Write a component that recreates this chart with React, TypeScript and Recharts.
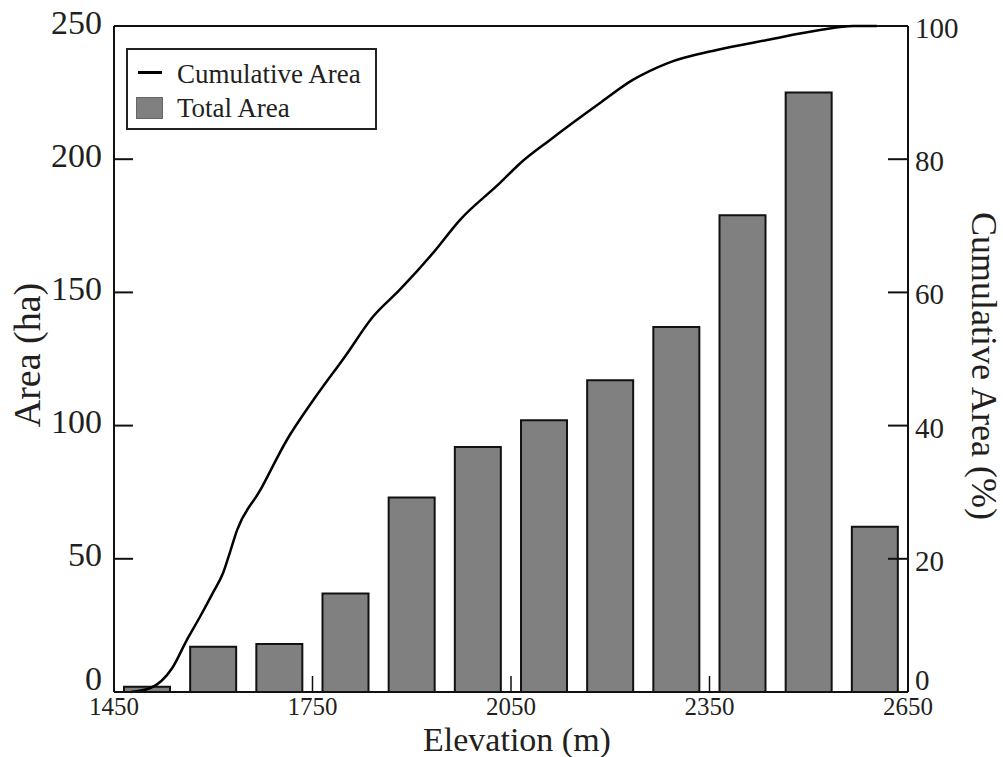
import { ComposedChart, Bar, Line, XAxis, YAxis, Legend, ReferenceLine } from "recharts";

// histogram of area per 100 m elevation band
const barElevation = [1500, 1600, 1700, 1800, 1900, 2000, 2100, 2200, 2300, 2400, 2500, 2600];
const totalArea = [2, 17, 18, 37, 73, 92, 102, 117, 137, 179, 225, 62];

// cumulative area curve (percent)
const cumElevation = [
  1475, 1505, 1538, 1560, 1580, 1600, 1615, 1625, 1636, 1671, 1711, 1751, 1800, 1841,
  1882, 1932, 1973, 2033, 2064, 2109, 2184, 2234, 2286, 2361, 2437, 2517, 2567, 2603,
];
const cumulativePct = [
  0, 0.6, 3.6, 7.8, 11.3, 15, 17.9, 20.9, 24.3, 30.3, 37.8, 43.8, 50.5, 56.3,
  60.4, 65.9, 70.9, 76.4, 79.4, 82.9, 88.4, 91.9, 94.4, 96.4, 97.9, 99.4, 100, 100,
];

const elevationTicks = [1450, 1750, 2050, 2350, 2650];
const areaTicks = [0, 50, 100, 150, 200, 250];
const pctTicks = [0, 20, 40, 60, 80, 100];

const barData = barElevation.map((elev, i) => ({ elev, area: totalArea[i] }));
const cumData = cumElevation.map((elev, i) => ({ elev, pct: cumulativePct[i] }));

const FONT = '"Liberation Serif", "Times New Roman", serif';
const INK = "#231f20";

const LeftTick = (props: any) => {
  const { x, y, payload } = props;
  const v = payload.value;
  const axisX = x + 12;
  const showLine = v !== 0 && v !== 250;
  return (
    <g>
      {showLine && <line x1={axisX} x2={axisX + 19} y1={y} y2={y} stroke="#111" strokeWidth={2} />}
      <text x={x} y={v === 0 ? y - 14 : y - 4} textAnchor="end" dominantBaseline="central"
        fontFamily={FONT} fontSize={34} fill={INK}>
        {v}
      </text>
    </g>
  );
};

const RightTick = (props: any) => {
  const { x, y, payload } = props;
  const v = payload.value;
  const axisX = x - 7;
  const showLine = v !== 0 && v !== 100;
  return (
    <g>
      {showLine && <line x1={axisX - 20} x2={axisX} y1={y} y2={y} stroke="#111" strokeWidth={2} />}
      <text x={x} y={v === 0 ? y - 12 : y + 2} textAnchor="start" dominantBaseline="central"
        fontFamily={FONT} fontSize={29} fill={INK}>
        {v}
      </text>
    </g>
  );
};

const BottomTick = (props: any) => {
  const { x, y, payload } = props;
  const v = payload.value;
  const axisY = y - 10;
  const showLine = v !== 1450 && v !== 2650;
  return (
    <g>
      {showLine && <line x1={x} x2={x} y1={axisY} y2={axisY - 16} stroke="#111" strokeWidth={1.5} />}
      <text x={x} y={y + 13} textAnchor="middle" fontFamily={FONT} fontSize={25} fill={INK}>
        {v}
      </text>
    </g>
  );
};

const LegendBox = () => (
  <div
    style={{
      position: "relative",
      width: 251,
      height: 82,
      boxSizing: "border-box",
      border: "2px solid #222",
      background: "#fff",
      fontFamily: FONT,
      fontSize: 27,
      color: INK,
    }}
  >
    <div style={{ position: "absolute", left: 10, top: 21, width: 24, height: 2.5, background: "#000" }} />
    <div
      style={{
        position: "absolute", left: 8, top: 47, width: 27, height: 22,
        boxSizing: "border-box", background: "#808080", border: "1.5px solid #666",
      }}
    />
    <div style={{ position: "absolute", left: 49, top: 8, lineHeight: "32px", whiteSpace: "nowrap" }}>
      Cumulative Area
    </div>
    <div style={{ position: "absolute", left: 49, top: 42, lineHeight: "32px", whiteSpace: "nowrap" }}>
      Total Area
    </div>
  </div>
);

export default function App() {
  return (
    <div style={{ position: "absolute", left: 0, top: 0, width: 1003, height: 757, background: "#fff" }}>
      <ComposedChart
        width={1003}
        height={757}
        data={barData}
        margin={{ top: 26, right: 0, bottom: 0, left: 0 }}
      >
        {/* bars get their own axis so the band width comes from the 100 m bins only */}
        <XAxis
          xAxisId="bins"
          dataKey="elev"
          type="number"
          domain={[1450, 2650]}
          ticks={elevationTicks}
          allowDataOverflow
          height={65}
          axisLine={{ stroke: "#111", strokeWidth: 2 }}
          tickLine={false}
          tickSize={0}
          tickMargin={10}
          tick={<BottomTick />}
          label={{
            value: "Elevation (m)",
            content: () => (
              <text x={517} y={751} textAnchor="middle" fontFamily={FONT} fontSize={34} fill={INK}>
                Elevation (m)
              </text>
            ),
          }}
        />
        <XAxis
          xAxisId="curve"
          dataKey="elev"
          type="number"
          domain={[1450, 2650]}
          allowDataOverflow
          hide
        />
        <YAxis
          yAxisId="left"
          domain={[0, 250]}
          ticks={areaTicks}
          width={114}
          axisLine={{ stroke: "#111", strokeWidth: 2 }}
          tickLine={false}
          tickSize={0}
          tickMargin={12}
          tick={<LeftTick />}
          label={{
            value: "Area (ha)",
            content: () => (
              <text x={40} y={355} transform="rotate(-90 40 355)" textAnchor="middle"
                fontFamily={FONT} fontSize={38} fill={INK}>
                Area (ha)
              </text>
            ),
          }}
        />
        <YAxis
          yAxisId="right"
          orientation="right"
          domain={[0, 100]}
          ticks={pctTicks}
          width={95}
          axisLine={{ stroke: "#111", strokeWidth: 2 }}
          tickLine={false}
          tickSize={0}
          tickMargin={7}
          tick={<RightTick />}
          label={{
            value: "Cumulative Area (%)",
            content: () => (
              <text x={972} y={366} transform="rotate(90 972 366)" textAnchor="middle"
                fontFamily={FONT} fontSize={36} fill={INK}>
                Cumulative Area (%)
              </text>
            ),
          }}
        />
        <ReferenceLine xAxisId="bins" yAxisId="left" y={250} stroke="#111" strokeWidth={2} />
        <Bar
          xAxisId="bins"
          yAxisId="left"
          dataKey="area"
          name="Total Area"
          barSize={46}
          fill="#808080"
          stroke="#111"
          strokeWidth={2}
          isAnimationActive={false}
        />
        <Line
          xAxisId="curve"
          yAxisId="right"
          data={cumData}
          dataKey="pct"
          name="Cumulative Area"
          type="monotone"
          stroke="#000"
          strokeWidth={2.5}
          dot={false}
          activeDot={false}
          isAnimationActive={false}
        />
        <Legend
          layout="vertical"
          align="center"
          verticalAlign="middle"
          wrapperStyle={{ left: 126, top: 48, width: 251, height: 82 }}
          content={<LegendBox />}
        />
      </ComposedChart>
    </div>
  );
}
